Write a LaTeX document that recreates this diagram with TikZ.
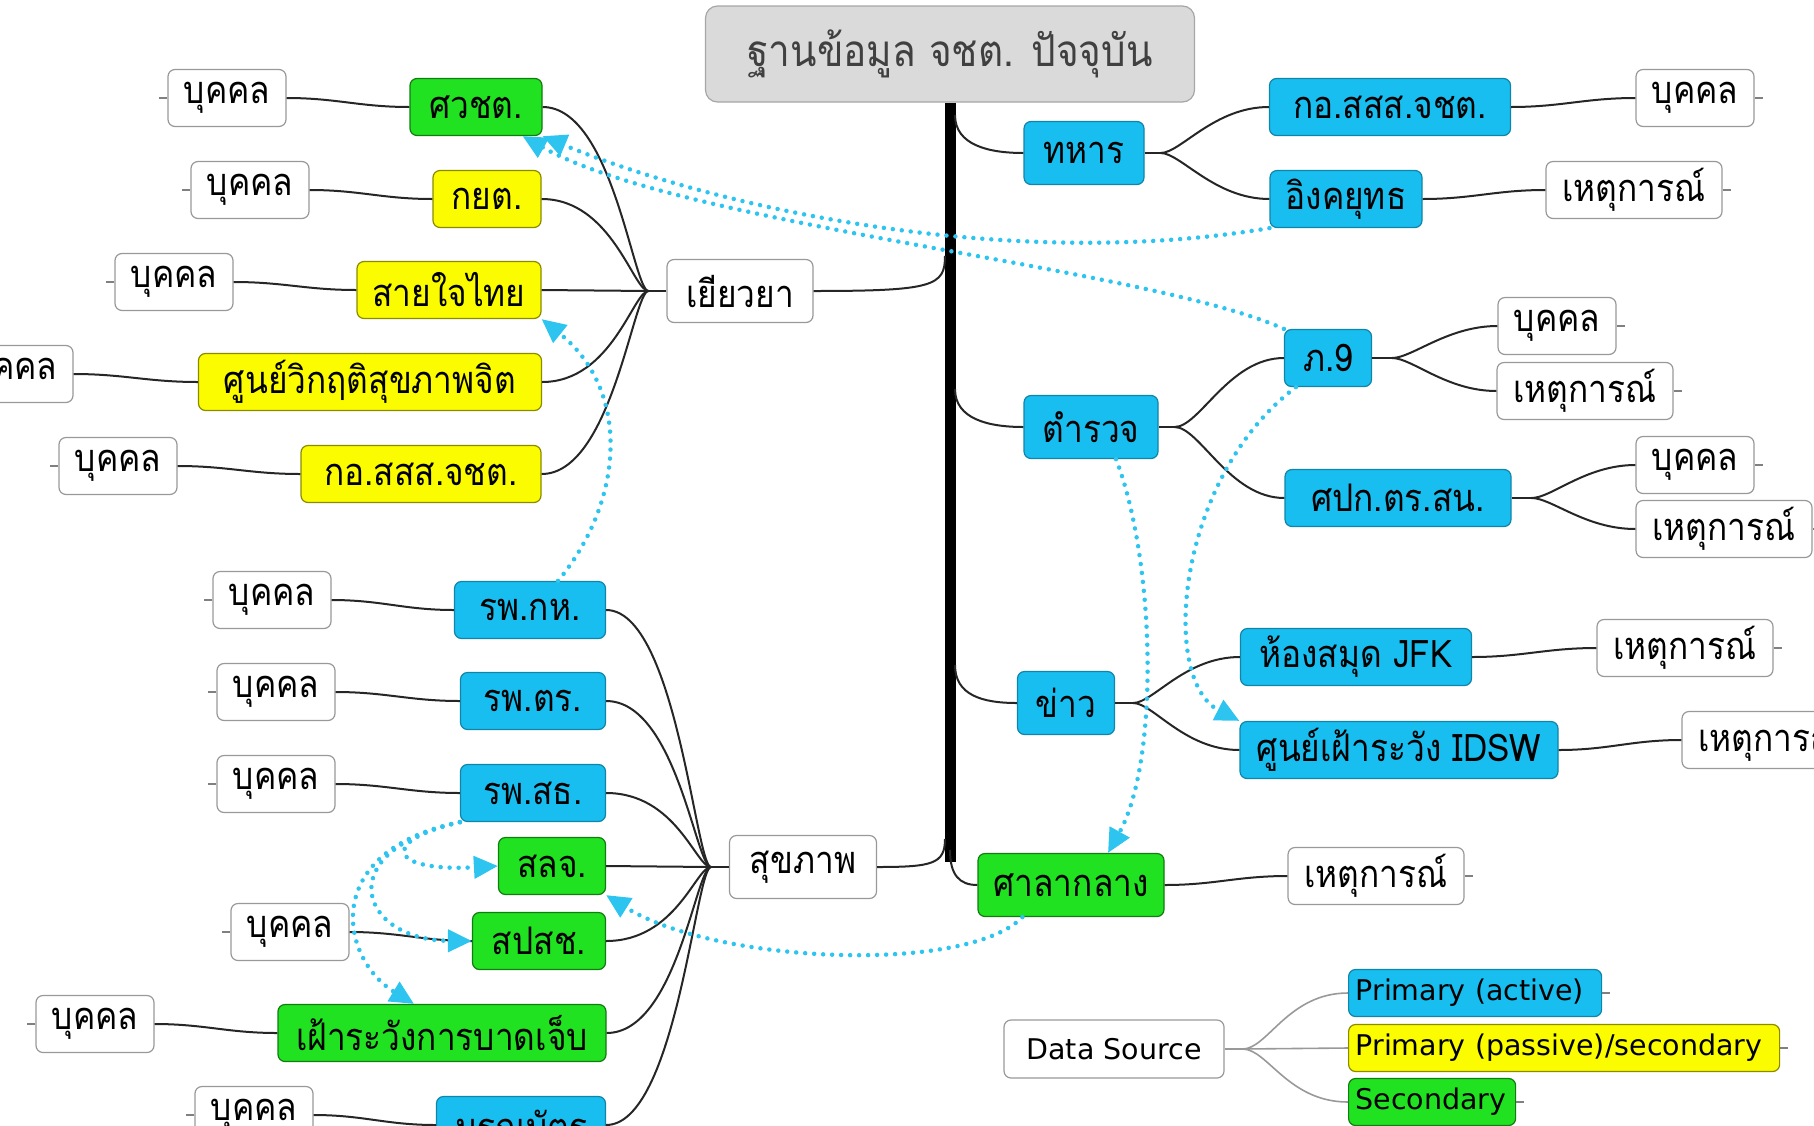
\documentclass[tikz,border=0pt]{standalone}
\usepackage{fontspec}
\newfontfamily\thaifont[Script=Thai, FakeStretch=0.88]{Loma}
\setsansfont{DejaVu Sans}
\usepackage{tikz}
\usetikzlibrary{calc}
\usetikzlibrary{positioning, arrows.meta}

\definecolor{actblue}{RGB}{24,190,240}
\definecolor{pasyellow}{RGB}{252,252,0}
\definecolor{secgreen}{RGB}{32,226,32}
\definecolor{dotblue}{RGB}{45,196,240}
\definecolor{rootgray}{RGB}{218,218,218}

\tikzset{
  box/.style={draw, rounded corners=7pt, line width=1.2pt, minimum height=57pt, inner xsep=4pt, inner ysep=0pt, font=\thaifont\fontsize{38}{40}\selectfont},
  plain/.style={box, draw=black!40, fill=white},
  act/.style={box, draw=actblue!70!black, fill=actblue},
  pas/.style={box, draw=pasyellow!55!black, fill=pasyellow},
  sec/.style={box, draw=secgreen!55!black, fill=secgreen},
  topic/.style={minimum height=63pt},
  person/.style={plain, minimum width=118pt},
  event/.style={plain, minimum width=176pt},
  key/.style={anchor=west, minimum height=47pt, inner xsep=7pt, text width=#1, align=left, font=\sffamily\fontsize{28.5}{30}\selectfont},
  link/.style={draw=black!85, line width=2pt},
  keylink/.style={draw=black!40, line width=1.6pt},
  tick/.style={draw=black!50, line width=1.2pt},
  cue/.style={draw=dotblue, line width=4.5pt, line cap=round, dash pattern=on 0pt off 9pt, -{Triangle[length=24pt,width=22pt]}}
}

\begin{document}
\begin{tikzpicture}[x=1pt, y=-1pt] % one unit = one pixel, y runs down
    \useasboundingbox (0,0) rectangle (1814,1125);
    \clip (0,0) rectangle (1814,1125);

    % Root box and the thick trunk under it
    \node[box, draw=black!35, fill=rootgray, text=black!75, minimum width=489pt, minimum height=96pt, rounded corners=12pt, font=\thaifont\fontsize{44}{46}\selectfont] (root) at (950,54) {ฐานข้อมูล จชต. ปัจจุบัน};
    \coordinate (ttop) at (root.south);
    \coordinate (tbot) at (950,862);
    \draw[line width=11pt] (ttop) -- (tbot);

    % Topics right of the trunk
    \node[act, topic, minimum width=120pt] (tahan) at (1084,153) {ทหาร};
    \node[act, topic, minimum width=134pt] (tamruat) at (1091,427) {ตำรวจ};
    \node[act, topic, minimum width=97pt] (khao) at (1066,703) {ข่าว};
    \node[sec, topic, minimum width=186pt] (sala) at (1071,885) {ศาลากลาง};

    % Topics left of the trunk
    \node[plain, topic, minimum width=146pt] (yiaoya) at (740,291) {เยียวยา};
    \node[plain, topic, minimum width=147pt] (sukhaphap) at (803,867) {สุขภาพ};

    % Sources under ทหาร
    \node[act, minimum width=241pt] (kossr) at (1390,107) {กอ.สสส.จชต.};
    \node[act, minimum width=152pt] (ingk) at (1346,199) {อิงคยุทธ};
    \node[person] (ppr1) at (1695,98) {บุคคล};
    \node[event] (evr1) at (1634,190) {เหตุการณ์};

    % Sources under ตำรวจ
    \node[act, minimum width=87pt] (p9) at (1328,358) {ภ.9};
    \node[act, minimum width=226pt] (spk) at (1398,498) {ศปก.ตร.สน.};
    \node[person] (ppr2) at (1557,326) {บุคคล};
    \node[event] (evr2) at (1585,391) {เหตุการณ์};
    \node[person] (ppr3) at (1695,465) {บุคคล};
    \node[event] (evr3) at (1724,529) {เหตุการณ์};

    % Sources under ข่าว and ศาลากลาง
    \node[act, minimum width=231pt] (jfk) at (1356,657) {ห้องสมุด JFK};
    \node[act, minimum width=318pt] (idsw) at (1399,750) {ศูนย์เฝ้าระวัง IDSW};
    \node[event] (evr4) at (1685,648) {เหตุการณ์};
    \node[event] (evr5) at (1770,740) {เหตุการณ์};
    \node[event] (evr6) at (1376,876) {เหตุการณ์};

    % Sources under เยียวยา
    \node[sec, minimum width=132pt] (swcht) at (476,107) {ศวชต.};
    \node[pas, minimum width=108pt] (kyt) at (487,199) {กยต.};
    \node[pas, minimum width=184pt] (saijai) at (449,290) {สายใจไทย};
    \node[pas, minimum width=343pt] (crisis) at (370,382) {ศูนย์วิกฤติสุขภาพจิต};
    \node[pas, minimum width=240pt] (kossl) at (421,474) {กอ.สสส.จชต.};
    \node[person] (ppl1) at (227,98) {บุคคล};
    \node[person] (ppl2) at (250,190) {บุคคล};
    \node[person] (ppl3) at (174,282) {บุคคล};
    \node[person] (ppl4) at (14,374) {บุคคล};
    \node[person] (ppl5) at (118,466) {บุคคล};

    % Sources under สุขภาพ
    \node[act, minimum width=151pt] (rpkh) at (530,610) {รพ.กห.};
    \node[act, minimum width=145pt] (rptr) at (533,701) {รพ.ตร.};
    \node[act, minimum width=145pt] (rpsth) at (533,793) {รพ.สธ.};
    \node[sec, minimum width=107pt] (slj) at (552,866) {สลจ.};
    \node[sec, minimum width=133pt] (spsch) at (539,941) {สปสช.};
    \node[sec, minimum width=328pt] (injury) at (442,1033) {เฝ้าระวังการบาดเจ็บ};
    \node[act, minimum width=169pt] (death) at (521,1125) {มรณบัตร};
    \node[person] (ppl6) at (272,600) {บุคคล};
    \node[person] (ppl7) at (276,692) {บุคคล};
    \node[person] (ppl8) at (276,784) {บุคคล};
    \node[person] (ppl9) at (290,932) {บุคคล};
    \node[person] (ppl10) at (95,1024) {บุคคล};
    \node[person] (ppl11) at (254,1115) {บุคคล};

    % Legend
    \node[plain, minimum width=220pt, minimum height=58pt, font=\sffamily\fontsize{28.5}{30}\selectfont] (ds) at (1114,1049) {Data Source};
    \node[act, key=239pt] (key1) at (1348,993) {Primary (active)};
    \node[pas, key=417pt] (key2) at (1348,1048) {Primary (passive)/secondary};
    \node[sec, key=153pt] (key3) at (1348,1102) {Secondary};

    % Trunk to topics
    \draw[link] ($(ttop |- tahan.west)+(5,-38)$) .. controls +(0,30) and +(-35,0) .. (tahan.west);
    \draw[link] ($(ttop |- tamruat.west)+(5,-38)$) .. controls +(0,30) and +(-35,0) .. (tamruat.west);
    \draw[link] ($(ttop |- khao.west)+(5,-38)$) .. controls +(0,30) and +(-35,0) .. (khao.west);
    \draw[link] ($(tbot)+(0,-12)$) .. controls +(0,25) and +(-18,0) .. (sala.west);
    \draw[link] (yiaoya.east) .. controls +(120,0) and +(0,30) .. ($(ttop |- yiaoya.east)+(-5,-35)$);
    \draw[link] (sukhaphap.east) .. controls +(55,0) and +(0,25) .. ($(ttop |- sukhaphap.east)+(-5,-28)$);

    % ทหาร branch
    \coordinate (jt) at ($(tahan.east)+(16,0)$);
    \draw[link] (tahan.east) -- (jt);
    \draw[link] (jt) .. controls +(20,0) and +(-55,0) .. (kossr.west);
    \draw[link] (jt) .. controls +(20,0) and +(-55,0) .. (ingk.west);
    \draw[link] (kossr.east) .. controls +(50,0) and +(-50,0) .. (ppr1.west);
    \draw[link] (ingk.east) .. controls +(50,0) and +(-50,0) .. (evr1.west);

    % ตำรวจ branch
    \coordinate (jr) at ($(tamruat.east)+(16,0)$);
    \draw[link] (tamruat.east) -- (jr);
    \draw[link] (jr) .. controls +(25,0) and +(-55,0) .. (p9.west);
    \draw[link] (jr) .. controls +(25,0) and +(-55,0) .. (spk.west);
    \coordinate (jp) at ($(p9.east)+(20,0)$);
    \draw[link] (p9.east) -- (jp);
    \draw[link] (jp) .. controls +(20,0) and +(-50,0) .. (ppr2.west);
    \draw[link] (jp) .. controls +(20,0) and +(-50,0) .. (evr2.west);
    \coordinate (js) at ($(spk.east)+(20,0)$);
    \draw[link] (spk.east) -- (js);
    \draw[link] (js) .. controls +(20,0) and +(-50,0) .. (ppr3.west);
    \draw[link] (js) .. controls +(20,0) and +(-50,0) .. (evr3.west);

    % ข่าว and ศาลากลาง branches
    \coordinate (jk) at ($(khao.east)+(18,0)$);
    \draw[link] (khao.east) -- (jk);
    \draw[link] (jk) .. controls +(20,0) and +(-55,0) .. (jfk.west);
    \draw[link] (jk) .. controls +(20,0) and +(-55,0) .. (idsw.west);
    \draw[link] (jfk.east) .. controls +(50,0) and +(-50,0) .. (evr4.west);
    \draw[link] (idsw.east) .. controls +(50,0) and +(-50,0) .. (evr5.west);
    \draw[link] (sala.east) .. controls +(50,0) and +(-50,0) .. (evr6.west);

    % เยียวยา branch
    \coordinate (jy) at ($(yiaoya.west)+(-18,0)$);
    \draw[link] (yiaoya.west) -- (jy);
    \draw[link] (jy) .. controls +(-15,0) and +(70,0) .. (swcht.east);
    \draw[link] (jy) .. controls +(-15,0) and +(70,0) .. (kyt.east);
    \draw[link] (jy) -- (saijai.east);
    \draw[link] (jy) .. controls +(-15,0) and +(70,0) .. (crisis.east);
    \draw[link] (jy) .. controls +(-15,0) and +(70,0) .. (kossl.east);
    \draw[link] (ppl1.east) .. controls +(50,0) and +(-50,0) .. (swcht.west);
    \draw[link] (ppl2.east) .. controls +(50,0) and +(-50,0) .. (kyt.west);
    \draw[link] (ppl3.east) .. controls +(50,0) and +(-50,0) .. (saijai.west);
    \draw[link] (ppl4.east) .. controls +(50,0) and +(-50,0) .. (crisis.west);
    \draw[link] (ppl5.east) .. controls +(50,0) and +(-50,0) .. (kossl.west);

    % สุขภาพ branch
    \coordinate (jh) at ($(sukhaphap.west)+(-18,0)$);
    \draw[link] (sukhaphap.west) -- (jh);
    \draw[link] (jh) .. controls +(-15,0) and +(70,0) .. (rpkh.east);
    \draw[link] (jh) .. controls +(-15,0) and +(70,0) .. (rptr.east);
    \draw[link] (jh) .. controls +(-15,0) and +(70,0) .. (rpsth.east);
    \draw[link] (jh) -- (slj.east);
    \draw[link] (jh) .. controls +(-15,0) and +(70,0) .. (spsch.east);
    \draw[link] (jh) .. controls +(-15,0) and +(70,0) .. (injury.east);
    \draw[link] (jh) .. controls +(-15,0) and +(70,0) .. (death.east);
    \draw[link] (ppl6.east) .. controls +(50,0) and +(-50,0) .. (rpkh.west);
    \draw[link] (ppl7.east) .. controls +(50,0) and +(-50,0) .. (rptr.west);
    \draw[link] (ppl8.east) .. controls +(50,0) and +(-50,0) .. (rpsth.west);
    \draw[link] (ppl9.east) .. controls +(50,0) and +(-50,0) .. (spsch.west);
    \draw[link] (ppl10.east) .. controls +(50,0) and +(-50,0) .. (injury.west);
    \draw[link] (ppl11.east) .. controls +(50,0) and +(-50,0) .. (death.west);

    % Legend links
    \coordinate (jd) at ($(ds.east)+(18,0)$);
    \draw[keylink] (ds.east) -- (jd);
    \draw[keylink] (jd) .. controls +(25,0) and +(-60,0) .. (key1.west);
    \draw[keylink] (jd) -- (key2.west);
    \draw[keylink] (jd) .. controls +(25,0) and +(-60,0) .. (key3.west);

    % Small end ticks
    \foreach \n in {ppr1, evr1, ppr2, evr2, ppr3, evr3, evr4, evr5, evr6, key1, key2, key3}
        \draw[tick] (\n.east) -- +(8,0);
    \foreach \n in {ppl1, ppl2, ppl3, ppl4, ppl5, ppl6, ppl7, ppl8, ppl9, ppl10, ppl11}
        \draw[tick] (\n.west) -- +(-8,0);

    % Dotted cross links
    \draw[cue] (ingk.south west) .. controls +(-272,46) and +(158,66) .. (swcht.south east);
    \draw[cue] (p9.north west) .. controls +(-138,-62) and +(160,90) .. ([xshift=-20]swcht.south east);
    \draw[cue] ([xshift=12]p9.south west) .. controls +(-120,91) and +(-80,-41) .. (idsw.north west);
    \draw[cue] ([xshift=25]tamruat.south) .. controls +(39,101) and +(52,-93) .. ([xshift=37]sala.north);
    \draw[cue] ([xshift=28]rpkh.north) .. controls +(67,-81) and +(89,71) .. (saijai.south east);
    \draw[cue] ([xshift=45]sala.south west) .. controls +(-55,57) and +(110,69) .. (slj.south east);
    \draw[cue] (rpsth.south west) .. controls +(-82,19) and +(-109,6) .. (slj.west);
    \draw[cue] (rpsth.south west) .. controls +(-131,29) and +(-113,-1) .. (spsch.west);
    \draw[cue] (rpsth.south west) .. controls +(-141,29) and +(-74,-45) .. ([xshift=-28]injury.north);
\end{tikzpicture}
\end{document}
